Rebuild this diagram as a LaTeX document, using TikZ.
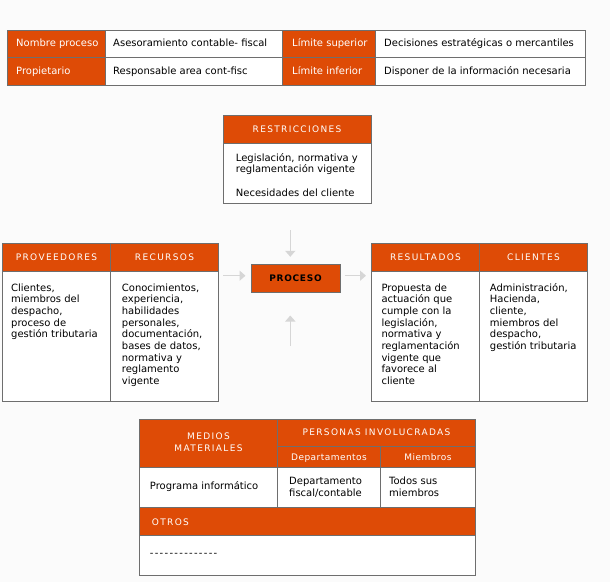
\documentclass[tikz,border=0pt]{standalone}
\usepackage{fontspec}
\setmainfont{DejaVu Sans}
\newfontfamily\sinlig{DejaVu Sans}
\usetikzlibrary{arrows.meta}
\definecolor{naranja}{RGB}{222,75,6}
\definecolor{borde}{RGB}{110,110,110}
\definecolor{fondo}{RGB}{251,251,251}
\definecolor{grisflecha}{RGB}{214,214,214}
\tikzset{
	linea/.style={draw=borde,line width=1pt},
	cab/.style={linea,fill=naranja},
	cuerpo/.style={linea,fill=white},
	txt/.style={font=\fontsize{10}{11.7}\selectfont,inner sep=0,anchor=base west,align=left},
	tcab/.style={font=\fontsize{9}{11.7}\selectfont\addfontfeature{LetterSpace=15},text=white,inner sep=0,anchor=base,align=center},
	tsub/.style={font=\fontsize{9}{11.7}\selectfont\addfontfeature{LetterSpace=5},text=white,inner sep=0,anchor=base},
	proc/.style={linea,fill=naranja,minimum width=89pt,minimum height=28pt,inner sep=0,font=\bfseries\fontsize{9}{11}\selectfont\addfontfeature{LetterSpace=8}},
	flecha/.style={draw=grisflecha,line width=1.5pt,-{Triangle[width=10pt,length=6pt]}}
}
\begin{document}
\begin{tikzpicture}[x=1pt,y=-1pt]
		\fill[fondo] (0,0) rectangle (610,582);
		\useasboundingbox (0,0) rectangle (610,582);
		% tabla superior
		\fill[naranja] (7,30) rectangle (105,85);
		\fill[white] (105,30) rectangle (282,85);
		\fill[naranja] (282,30) rectangle (375,85);
		\fill[white] (375,30) rectangle (585,85);
		\draw[linea] (7,30) rectangle (585,85);
		\draw[linea] (7,57.5) -- (585,57.5);
		\foreach \x in {105,282,375}
		{
			\draw[linea] (\x,30) -- (\x,85);
		}
		\node[txt,text=white] (nombre) at (16,46.3) {Nombre proceso};
		\node[txt,text=white] (propiet) at (16,74) {Propietario};
		\node[txt] (asesor) at (113,46.3) {Asesoramiento contable- fiscal};
		\node[txt] (respon) at (113,74) {Responsable area cont-fisc};
		\node[txt,text=white] (limsup) at (292,46.3) {Límite superior};
		\node[txt,text=white] (liminf) at (292,74) {Límite inferior};
		\node[txt] (decis) at (384,46.3) {Decisiones estratégicas o mercantiles};
		\node[txt] (dispon) at (384,74) {Disponer de la información necesaria};
		% restricciones (anchor base = ultima linea)
		\filldraw[cab] (223,115) rectangle (371,143);
		\filldraw[cuerpo] (223,143) rectangle (371,203);
		\node[tcab] (restr) at (297,132.3) {RESTRICCIONES};
		\node[txt] (legis) at (235.7,172.7) {Legislación, normativa y\\reglamentación vigente};
		\node[txt] (necesid) at (235.7,196) {Necesidades del cliente};
		% cajas laterales
		\foreach \dx in {0,369}
		{
			\begin{scope}[xshift=\dx pt]
			\filldraw[cab] (2.3,243) rectangle (218.3,271);
			\filldraw[cuerpo] (2.3,271) rectangle (218.3,401);
			\draw[linea] (110.7,243) -- (110.7,401);
			\end{scope}
		}
		\node[tcab] (provee) at (56.5,260) {PROVEEDORES};
		\node[tcab] (recur) at (164.5,260) {RECURSOS};
		\node[txt] (tprovee) at (11,337.8) {Clientes,\\miembros del\\despacho,\\proceso de\\gestión tributaria};
		\node[txt] (trecur) at (121.7,384.6) {Conocimientos,\\experiencia,\\habilidades\\personales,\\documentación,\\bases de datos,\\normativa y\\reglamento\\vigente};
		\node[tcab] (result) at (425.5,260) {RESULTADOS};
		\node[tcab] (client) at (533.5,260) {CLIENTES};
		\node[txt] (tresult) at (381.3,384.6) {Propuesta de\\actuación que\\cumple con la\\legislación,\\normativa y\\reglamentación\\vigente que\\favorece al\\cliente};
		\node[txt] (tclient) at (489.7,349.5) {Administración,\\Hacienda,\\cliente,\\miembros del\\despacho,\\gestión tributaria};
		% proceso y flechas
		\node[proc] (proceso) at (295.5,278) {PROCESO};
		\coordinate (entra) at (223,275.7);
		\coordinate (arriba) at (290.3,230);
		\coordinate (abajo) at (290.3,346);
		\coordinate (sale) at (366,275.7);
		\draw[flecha] (entra) -- ([xshift=-5pt]entra -| proceso.west);
		\draw[flecha] (arriba) -- ([yshift=6.7pt]arriba |- proceso.north);
		\draw[flecha] (abajo) -- ([yshift=-23pt]abajo |- proceso.south);
		\draw[flecha] ([xshift=4pt]sale -| proceso.east) -- (sale);
		% tabla inferior
		\fill[naranja] (139.3,419.3) rectangle (475.3,467.7);
		\fill[white] (139.3,467.7) rectangle (475.3,507.3);
		\fill[naranja] (139.3,507.3) rectangle (475.3,535.7);
		\fill[white] (139.3,535.7) rectangle (475.3,575);
		\draw[linea] (139.3,419.3) rectangle (475.3,575);
		\draw[linea] (277.7,446.3) -- (475.3,446.3);
		\foreach \y in {467.7,507.3,535.7}
		{
			\draw[linea] (139.3,\y) -- (475.3,\y);
		}
		\draw[linea] (277.7,419.3) -- (277.7,507.3);
		\draw[linea] (380.7,446.3) -- (380.7,507.3);
		\node[tcab] (medios) at (208.5,451) {MEDIOS\\MATERIALES};
		\node[tcab] (personas) at (376.5,435.7) {PERSONAS INVOLUCRADAS};
		\node[tsub] (deptos) at (329,460.7) {Departamentos};
		\node[tsub] (miembros) at (428,460.7) {Miembros};
		\node[txt] (program) at (149.7,489) {Programa informático};
		\node[txt] (tdepto) at (289,496.4) {Departamento\\fiscal/contable};
		\node[txt] (tmiemb) at (389,496.4) {Todos sus\\miembros};
		\node[tcab,anchor=base west] (otros) at (151.7,525.3) {OTROS};
		\node[txt,font=\sinlig\fontsize{10}{11.7}\selectfont\addfontfeature{LetterSpace=13}] (guiones) at (149.7,556) {--------------};
\end{tikzpicture}
\end{document}
